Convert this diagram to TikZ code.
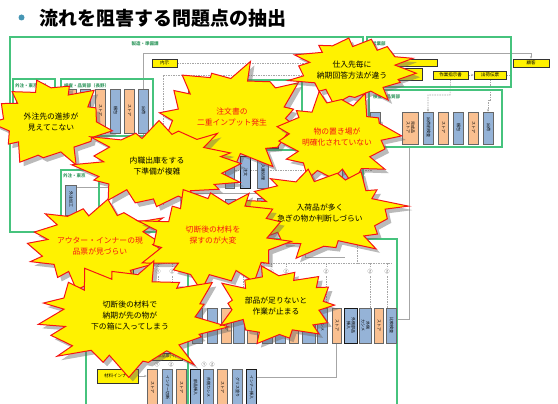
\documentclass[tikz,border=0pt]{standalone}
\usepackage{fontspec}
\usepackage{graphicx}
\newfontfamily\cjk{Noto Sans CJK JP}
\usetikzlibrary{arrows.meta,backgrounds}
\definecolor{grn}{RGB}{70,195,125}
\definecolor{bfill}{RGB}{149,179,215}
\definecolor{ofill}{RGB}{250,192,144}
\definecolor{ttl}{RGB}{70,150,180}
\definecolor{burstred}{RGB}{245,20,20}
\newcommand\procbox[7]{\node[#1, minimum width=#5pt, minimum height=#6pt] (#2) at ({#3+#5/2},{#4+#6/2}) {\rotatebox{-90}{\begin{tabular}{@{}c@{}}#7\end{tabular}}};}
\newcommand\burst[7]{%
 \fill[black!60,opacity=.45] plot[variable=\kk,samples at={0,...,#6}] ({#1+4+#3*br(\kk,#7)*cos(ang(\kk,#7,#5))},{#2+4+#4*br(\kk,#7)*sin(ang(\kk,#7,#5))}) -- cycle;
 \filldraw[fill=yellow,draw=burstred,line width=1pt] plot[variable=\kk,samples at={0,...,#6}] ({#1+#3*br(\kk,#7)*cos(ang(\kk,#7,#5))},{#2+#4*br(\kk,#7)*sin(ang(\kk,#7,#5))}) -- cycle;}
\begin{document}
\begin{tikzpicture}[x=1pt,y=-1pt,
 declare function={br(\idx,\sd)=(mod(\idx,2)==0)?(0.88+0.12*sin(\idx*97+\sd*7)):(0.68+0.05*sin(\idx*61+\sd*3));
   ang(\idx,\sd,\nn)=\idx*180/\nn+\sd+5*sin(\idx*131+\sd);},
 grp/.style={draw=grn, line width=1.3pt},
 glab/.style={font=\cjk\bfseries\fontsize{4.5}{5}\selectfont, text=grn!80!black, inner sep=0, anchor=west},
 bb/.style={draw=black!60, fill=bfill, line width=0.5pt, inner sep=0.3pt, font=\cjk\fontsize{4}{4.6}\selectfont},
 ob/.style={bb, fill=ofill},
 bbd/.style={bb, draw=black!90, line width=0.9pt},
 yb/.style={draw=black!80, fill=yellow, line width=0.5pt, inner sep=0.3pt, font=\cjk\fontsize{4.5}{5}\selectfont},
 gl/.style={draw=black!35, line width=0.6pt},
 gd/.style={gl, dash pattern=on 1.5pt off 1pt},
 num/.style={font=\cjk\fontsize{5}{5}\selectfont, inner sep=0, text=black!70},
 btext/.style={font=\cjk\fontsize{7.8}{11}\selectfont, align=center, inner sep=0}]
\useasboundingbox (0,0) rectangle (558,404);
\begin{pgfonlayer}{background}
\fill[white] (0,0) rectangle (558,404);
\end{pgfonlayer}

% title
\fill[ttl] (21.5,17.5) circle (3pt);
\node[anchor=west,inner sep=0,font=\cjk\bfseries\fontsize{19}{21}\selectfont] (title) at (39,18) {流れを阻害する問題点の抽出};

% green frames
\draw[grp] (10,37) rectangle (363,232);
\draw[grp] (13,79) rectangle (55,140);
\draw[grp] (61,79) rectangle (153,136);
\draw[grp] (61,170) rectangle (99,221);
\draw[grp] (247,80) rectangle (302,150);
\draw[grp] (367,37) rectangle (511,87);
\draw[grp] (369,90) rectangle (502,147);
\draw[grp] (86,410) -- (86,239) -- (397,239) -- (397,410);
\draw[grp] (188,263) -- (188,410);
\node[glab,anchor=center] (l1) at (145,44) {製造・準備課};
\node[glab] (l2) at (15,86) {外注・東京以外};
\node[glab] (l3) at (64,86) {検査・品質部（長野）};
\node[glab] (l4) at (63,176) {外注・東京};
\node[glab] (l5) at (251,87) {製造部};
\node[glab] (l6) at (372,44) {営業部};
\node[glab] (l7) at (373,97) {検査・品質部};

% yellow slips
\node[yb, minimum width=25pt, minimum height=8pt] (naiji) at (164.5,63) {内示};
\node[yb, minimum width=20pt, minimum height=7pt, font=\cjk\fontsize{4}{4.5}\selectfont] (chumon) at (268,144.5) {注文書};
\node[yb, minimum width=42pt, minimum height=7pt] (y1) at (416,62.5) {};
\node[yb, minimum width=27pt, minimum height=12pt] (y2) at (408.5,74) {};
\node[yb, minimum width=35pt, minimum height=8pt] (sagyo) at (450.5,75) {作業指示書};
\node[yb, minimum width=32pt, minimum height=8pt] (denpyo) at (490,75) {出荷伝票};
\node[yb, minimum width=36pt, minimum height=8pt] (kokyaku) at (531,63) {顧客};
\node[yb, minimum width=41pt, minimum height=14pt] (zairyo) at (117.5,376) {材料インナー};
\node[yb, minimum width=30pt, minimum height=7pt, font=\cjk\fontsize{4}{4.5}\selectfont] (bhi) at (167,356.5) {部品票(イ)};
\node[yb, minimum width=23pt, minimum height=6pt, font=\cjk\fontsize{4}{4.5}\selectfont] (bha) at (171.5,291) {部品票(ア)};
\node[yb, minimum width=33pt, minimum height=6pt] (y3) at (116.5,271) {};
\node[yb, minimum width=25pt, minimum height=6pt] (y4) at (262.5,289) {};

% process boxes
\procbox{bb}{a1}{16}{98}{10}{35}{}
\procbox{ob}{a2}{66}{89}{10}{44}{}
\procbox{bb}{a3}{80}{89}{10}{44}{}
\procbox{ob}{a4}{95}{89}{10}{44}{ストア}
\procbox{bb}{a5}{110}{89}{10}{44}{梱包}
\procbox{ob}{a6}{124}{89}{10}{44}{ストア}
\procbox{bb}{a7}{138}{89}{10}{44}{出荷}
\procbox{bb}{a8}{65}{185}{11}{30}{外注加工}
\procbox{bb}{g1}{188}{89}{9}{36}{}
\procbox{bb}{g2}{206}{89}{8}{36}{}
\procbox{bb}{b1}{205}{157}{10}{31}{}
\procbox{bb}{b2}{225}{157}{9}{31}{}
\procbox{bbd}{b3}{240}{156}{10}{32}{注文}
\procbox{bb}{b4}{257}{157}{11}{31}{入庫処理}
\procbox{bb}{b5}{342}{160}{9}{23}{出庫}
\procbox{bbd}{c1}{185}{199}{13}{23}{出庫}
\procbox{ob}{c2}{207}{199}{11}{23}{ストア}
\procbox{bb}{c3}{225}{199}{10}{23}{}
\procbox{bb}{c4}{257}{198}{9}{24}{}
\procbox{bb}{d1}{370}{112}{10}{32}{}
\procbox{ob}{d2}{402}{112}{16}{32}{完成品\\ストア}
\procbox{bb}{d3}{423}{112}{10}{32}{出荷前検査}
\procbox{ob}{d4}{438}{112}{10}{32}{ストア}
\procbox{bb}{d5}{453}{112}{10}{32}{梱包}
\procbox{ob}{d6}{468}{112}{10}{32}{ストア}
\procbox{bb}{d7}{483}{112}{10}{32}{出荷}
\procbox{bb}{e1}{192}{308}{10}{35}{}
\procbox{bb}{e2}{207}{308}{10}{35}{}
\procbox{ob}{e3}{221}{308}{10}{35}{ストア}
\procbox{bb}{e4}{233}{308}{11}{35}{}
\procbox{ob}{e5}{247}{308}{10}{35}{ストア}
\procbox{bb}{e6}{262}{308}{10}{35}{}
\procbox{bb}{e7}{275}{308}{10}{35}{}
\procbox{ob}{e8}{289}{308}{9}{35}{ストア}
\procbox{bb}{e9}{302}{308}{13}{35}{}
\procbox{bb}{e10}{317}{308}{10}{35}{カシメ}
\procbox{ob}{e11}{332}{308}{9}{35}{ストア}
\procbox{bbd}{e12}{344}{308}{13}{35}{外側部品\\挿入}
\procbox{bb}{e13}{359}{308}{12}{35}{外側\\カシメ}
\procbox{ob}{e14}{374}{308}{9}{35}{ストア}
\procbox{bb}{e15}{386}{308}{10}{35}{比較検査}
\procbox{ob}{f1}{147}{369}{10}{36}{ストア}
\procbox{bb}{f2}{162}{369}{10}{36}{インナー切断}
\procbox{ob}{f3}{176}{369}{10}{36}{ストア}
\procbox{bbd}{f4}{190}{369}{10}{36}{部品挿入}
\procbox{bb}{f5}{203}{369}{10}{36}{外側カシメ}
\procbox{ob}{f6}{217}{369}{10}{36}{ストア}
\procbox{bb}{f7}{232}{369}{10}{36}{グリス塗り}
\procbox{bbd}{f8}{246}{369}{10}{36}{インナー挿入}

% circled numbers
\node[num] (n1) at (158,272) {①};
\node[num] (n2) at (172,272) {②};
\node[num] (n3) at (243,272) {②};
\node[num] (n4) at (271,272) {①};
\node[num] (n5) at (286,272) {②};
\node[num] (n6) at (326,272) {②};
\node[num] (n7) at (370,272) {②};
\node[num] (n8) at (387,272) {②};
\node[num] (n9) at (157,365) {①};
\node[num] (n10) at (171,365) {②};
\node[num] (n11) at (204,365) {①};
\node[num] (n12) at (212,365) {②};
\coordinate (p1) at (143,178);
\coordinate (q1) at (256,377);

\begin{pgfonlayer}{background}
\draw[gl,-{Stealth[length=2.5pt,width=2pt]}] (p1) -- (143,53) -| (kokyaku.north);
\draw[gd] (naiji.east) -- (398,63);
\draw[gd] (163,205) -- (163,75) -- (400,75);
\draw[gd,-{Stealth[length=2.5pt,width=2pt]}] (sagyo.east) -- (denpyo.west);
\draw[gd] (denpyo.east) -- (511,75);
\draw[gd,-{Stealth[length=2.5pt,width=2pt]}] (sagyo.south) -- (450,95) -| (d3.north);
\draw[gd,-{Stealth[length=2.5pt,width=2pt]}] (denpyo.south) -- (490,100) -| (d7.north);
\draw[gd] (200,170) -- (372,170);
\draw[gd] (357,150) -- (357,263);
\draw[gd] (143,263) -- (392,263);
\foreach \xx in {243,271,286,326,370,387} {\draw[gd] (\xx,263) -- (\xx,268); \draw[gd] (\xx,276) -- (\xx,308);}
\foreach \xx in {158,172} {\draw[gd] (\xx,263) -- (\xx,268); \draw[gd] (\xx,276) -- (\xx,288);}
\draw[gd] (158,294) -- (158,353);
\draw[gd] (172,294) -- (172,353);
\draw[gl] (76,187) -- (180,187) -- (180,222);
\draw[gl] (180,193) -- (305,193);
\draw[gl] (305,150) -- (305,257) -- (345,257);
\draw[gl] (e15.east |- 0,319) -- (409,319) -- (409,147);
\draw[gl] (q1) -| (e11.south);
\draw[gl,-{Stealth[length=2.5pt,width=2pt]}] (zairyo.east) -- (zairyo.east -| f1.west);
\draw[gl] (a8.south) -- (70.5,221);
\end{pgfonlayer}

% starbursts
\burst{50}{122}{64}{47}{13}{25}{10}
\burst{232}{117}{82}{58}{15}{29}{40}
\burst{352}{70}{68}{36}{14}{27}{5}
\burst{336}{138}{66}{50}{14}{27}{70}
\burst{160}{166}{90}{46}{16}{31}{20}
\burst{320}{212}{90}{48}{16}{31}{33}
\burst{98}{246}{80}{48}{15}{29}{12}
\burst{215}{238}{82}{55}{15}{29}{55}
\burst{130}{318}{102}{60}{17}{33}{8}
\burst{278}{305}{66}{42}{14}{27}{27}

\node[btext] (t1) at (51,122) {外注先の進捗が\\見えてこない};
\node[btext,text=burstred] (t2) at (232,117) {注文書の\\二重インプット発生};
\node[btext] (t3) at (352,70) {仕入先毎に\\納期回答方法が違う};
\node[btext,text=burstred] (t4) at (337,137) {物の置き場が\\明確化されていない};
\node[btext] (t5) at (157,166) {内職出庫をする\\下準備が複雑};
\node[btext] (t6) at (320,213) {入荷品が多く\\急ぎの物か判断しづらい};
\node[btext,text=burstred] (t7) at (100,246) {アウター・インナーの現\\品票が見づらい};
\node[btext,text=burstred] (t8) at (213,235) {切断後の材料を\\探すのが大変};
\node[btext] (t9) at (130,316) {切断後の材料で\\納期が先の物が\\下の箱に入ってしまう};
\node[btext] (t10) at (276,306) {部品が足りないと\\作業が止まる};
\end{tikzpicture}
\end{document}
